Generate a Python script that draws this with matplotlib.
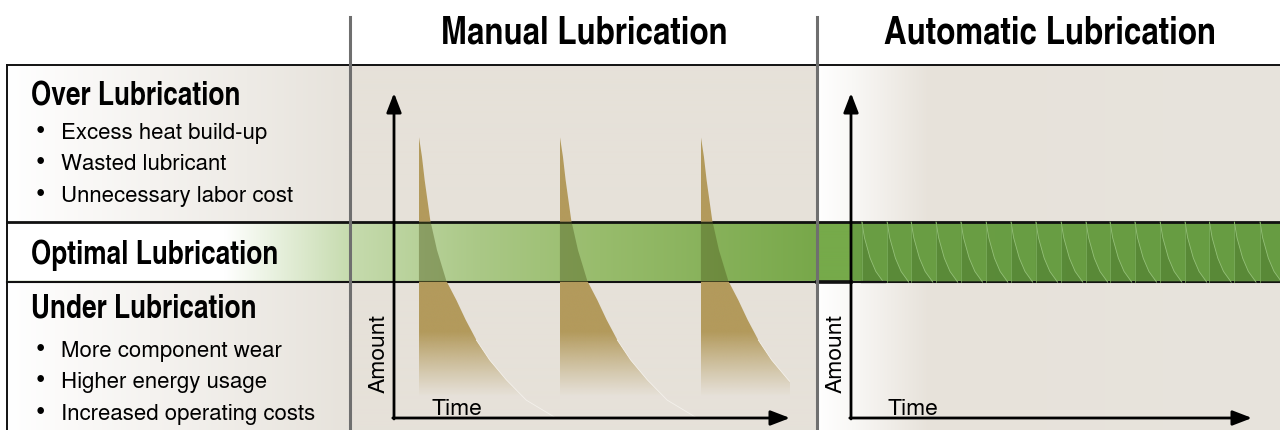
import numpy as np
import matplotlib
matplotlib.use("Agg")
import matplotlib.pyplot as plt
from matplotlib.colors import to_rgb
from matplotlib.patches import Polygon, Rectangle

W, H = 1280, 430

# ---- text ----
column_titles = ["Manual Lubrication", "Automatic Lubrication"]
row_titles = ["Over Lubrication", "Optimal Lubrication", "Under Lubrication"]
over_bullets = ["Excess heat build-up", "Wasted lubricant", "Unnecessary labor cost"]
under_bullets = ["More component wear", "Higher energy usage", "Increased operating costs"]
x_label = "Time"
y_label = "Amount"

# ---- data (time / amount on a 0..100 scale) ----
optimal_band = [41.8, 60.3]

# manual: a big shot of grease now and then, which then runs down
manual_shot_times = [6.3, 41.9, 77.5]
decay_dt = [0, 0.76, 1.44, 2.85, 4.55, 6.92, 9.44, 11.8, 14.5, 17.9, 22.1, 27.1, 34.6]
decay_amount = [86.5, 80.4, 73.2, 60.9, 51.7, 42.2, 36.3, 30.2, 24.0, 17.8, 11.7, 5.5, 0]

# automatic: small shots all the time, staying inside the band
auto_shot_times = [2.7, 9.0, 15.0, 21.2, 27.4, 33.7, 39.9, 46.1, 52.4, 58.6,
                   64.6, 70.8, 77.1, 83.3, 89.4, 95.6, 102.0]
tooth_dt = [0, 0.67, 2.07, 3.49, 5.41]
tooth_amount = [60.3, 55.4, 49.2, 45.1, 41.8]

BOLD_FONT = ["TeX Gyre Heros Cn", "Roboto Condensed", "DejaVu Sans"]
TEXT_FONT = ["TeX Gyre Heros", "Liberation Sans", "DejaVu Sans"]
plt.rcParams["font.family"] = TEXT_FONT

fig = plt.figure(figsize=(W / 100, H / 100), dpi=100)
bg = fig.add_axes([0, 0, 1, 1])
bg.set_xlim(0, W)
bg.set_ylim(H, 0)
bg.axis("off")


def hgrad(x_pts, colors, x0, x1, y0, y1, ax=bg, z=0):
    xs = np.arange(x0, x1) + 0.5
    cols = np.array([to_rgb(c) for c in colors])
    img = np.stack([np.interp(xs, x_pts, cols[:, k]) for k in range(3)], axis=-1)
    ax.imshow(img[None, :, :], extent=(x0, x1, y1, y0), aspect="auto",
              interpolation="bilinear", zorder=z)


# panels
hgrad([7, 150, 345], ["#ffffff", "#f5f3f0", "#e7e3dc"], 7, 350, 65, 430)
hgrad([350, 817], ["#e6e1d9", "#e6e1d9"], 350, 817, 65, 430)
hgrad([817, 852, 930, 1280], ["#ffffff", "#f9f8f6", "#e7e2da", "#e8e4dd"], 817, 1280, 65, 430)
# optimal band
hgrad([7, 225, 350, 480, 600, 815, 817, 851, 852, 1280],
      ["#ffffff", "#ffffff", "#c6dbae", "#aac886", "#98bc6c", "#78a84a",
       "#76aa4a", "#76aa4a", "#6a9e44", "#679c42"], 7, 1280, 222, 282, z=1)

# frame lines
kw = dict(color="#111111", lw=1.4, zorder=3)
bg.plot([7, W], [65, 65], **kw)
bg.plot([7, 7], [65, H], **kw)
bg.plot([7, W], [222, 222], lw=2.0, color="#111111", zorder=3)
bg.plot([7, W], [280.5, 280.5], lw=1.0, color="#a9c98e", zorder=3)
bg.plot([7, W], [282, 282], lw=1.5, color="#111111", zorder=3)
bg.plot([817, 851], [281.5, 281.5], lw=2.6, color="#111111", zorder=3)
for xv in (350, 817):
    bg.plot([xv, xv], [17, H], color="#6f6f6f", lw=2.2, zorder=4)

# text
bg.text(584, 43, column_titles[0], fontsize=27.5, fontweight="bold", ha="center",
        va="baseline", family=BOLD_FONT)
bg.text(1050, 43, column_titles[1], fontsize=27.5, fontweight="bold", ha="center",
        va="baseline", family=BOLD_FONT)
row_base = [106, 264, 317]
for t, yb in zip(row_titles, row_base):
    bg.text(31, yb, t, fontsize=23, fontweight="bold", va="baseline", zorder=5, family=BOLD_FONT)
for items, bases in ((over_bullets, [139, 170, 202]), (under_bullets, [357, 388, 420])):
    for t, yb in zip(items, bases):
        bg.text(40, yb, "\u2022", fontsize=19, ha="center", va="baseline")
        bg.text(61, yb, t, fontsize=16, va="baseline")

for lab_x, time_x in ((379, 431), (836, 888)):
    bg.text(lab_x, 354, y_label, fontsize=16.5, rotation=90, ha="center", va="center", zorder=6)
    bg.text(time_x, 415, x_label, fontsize=16.5, va="baseline", zorder=6)


def chart_axes(px_left, px_right):
    ax = fig.add_axes([px_left / W, (H - 418) / H, (px_right - px_left) / W, 325 / H])
    ax.set_xlim(0, 100)
    ax.set_ylim(0, 100)
    ax.axis("off")
    return ax


def arrows(ax):
    st = "-|>,head_length=0.65,head_width=0.25"
    ap = dict(arrowstyle=st, lw=2, color="black", mutation_scale=18, shrinkA=0, shrinkB=0)
    ax.annotate("", xy=(0, 100), xytext=(0, -0.3), arrowprops=ap, annotation_clip=False, zorder=10)
    ax.annotate("", xy=(100, 0), xytext=(-0.3, 0), arrowprops=ap, annotation_clip=False, zorder=10)


lo, hi = optimal_band

# ---- manual chart ----
axm = chart_axes(394, 790)
rows = 600
amt = np.linspace(0, 90, rows)
alpha = np.clip((amt - 6.5) / 20, 0, 1) ** 1.1
alpha[(amt >= lo) & (amt <= hi)] = 0
gold = np.zeros((rows, 2, 4))
gold[..., :3] = to_rgb("#b39a5c")
gold[..., 3] = alpha[:, None]
for t0 in manual_shot_times:
    xs = [t0] + [t0 + d for d in decay_dt] + [t0]
    ys = [0] + decay_amount + [0]
    verts = list(zip(xs, ys))
    poly = Polygon(verts, closed=True, fc="none", ec="none", transform=axm.transData)
    axm.add_patch(poly)
    im = axm.imshow(gold, extent=(t0, t0 + 40, 0, 90), origin="lower", aspect="auto",
                    interpolation="bilinear", zorder=2)
    im.set_clip_path(poly)
    dark = Polygon(verts, closed=True, fc="#4e5a1c", ec="none", alpha=0.42, zorder=3)
    axm.add_patch(dark)
    dark.set_clip_path(Rectangle((0, lo), 120, hi - lo, transform=axm.transData))
    # faint edge of the curve fading out near the bottom
    axm.plot([t0 + d for d in decay_dt[8:]], decay_amount[8:], color="#f4f1ec", lw=0.6, zorder=2)
arrows(axm)

# ---- automatic chart ----
axa = chart_axes(851, 1252)
for t0 in auto_shot_times:
    xs = [t0] + [t0 + d for d in tooth_dt]
    ys = [lo] + tooth_amount
    axa.fill(xs, ys, color="#46702a", alpha=0.42, lw=0, zorder=2, clip_on=False)
    axa.plot([t0 + d for d in tooth_dt], tooth_amount, color="#94c078", lw=0.6, zorder=3, clip_on=False)
    axa.plot([t0, t0], [lo, hi], color="#80b262", lw=0.5, zorder=3, clip_on=False)
axa.plot([2.7, 8.4], [lo + 0.2, lo + 0.2], color="#111111", lw=1.6, zorder=4)
arrows(axa)

fig.savefig("out.png", dpi=100)
